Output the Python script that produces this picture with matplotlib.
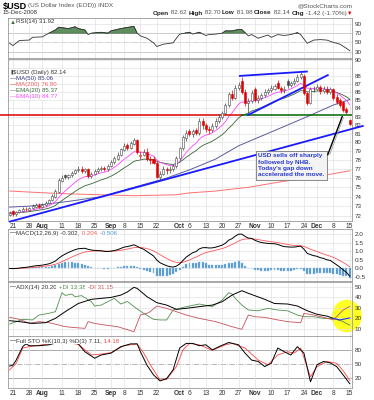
import matplotlib
matplotlib.use('Agg')
import matplotlib.pyplot as plt
import numpy as np
import pandas as pd
from matplotlib.patches import Ellipse
from matplotlib.ticker import NullLocator

plt.rcParams['font.family'] = ['Liberation Sans', 'DejaVu Sans']

# ---- data (day index -1 = 18 Jul 2008, 103 = 15 Dec 2008)
holidays = ['2008-09-01', '2008-11-27']

opens = [
    72.10,
    72.45, 72.15, 72.40, 72.50, 72.75, 72.60, 72.80, 72.90, 73.15, 72.95,
    73.10, 73.30, 73.60, 74.00, 74.50, 75.70, 76.30, 76.10, 76.30, 76.55,
    76.85, 77.05, 76.80, 76.95, 76.25, 76.45, 76.75, 76.95, 77.15, 76.95,
    77.30, 77.75, 78.15, 78.55, 79.15, 79.70, 79.40, 79.85, 80.25, 78.40,
    78.60, 78.95, 78.10, 78.10, 77.70, 76.10, 76.50, 77.00, 76.90, 77.00,
    77.30, 78.20, 79.30, 80.50, 81.30, 81.00, 81.40, 81.10, 82.50, 82.00,
    81.60, 81.40, 81.90, 82.50, 83.00, 83.40, 84.40, 85.80, 85.30, 86.50,
    87.40, 86.00, 84.60, 84.90, 86.30, 85.00, 85.30, 85.60, 86.00, 86.20,
    86.40, 87.10, 86.50, 86.20, 87.30, 86.90, 87.10, 87.40, 87.90, 88.00,
    85.90, 84.70, 86.30, 86.40, 86.60, 86.10, 86.40, 86.00, 86.30, 85.40,
    85.00, 84.80, 83.90, 82.62,
]
highs = [
    72.5,
    72.6, 72.5, 72.7, 72.9, 72.9, 72.9, 73.2, 73.3, 73.3, 73.3,
    73.5, 73.8, 74.3, 74.8, 76.0, 76.3, 76.5, 76.5, 76.8, 77.0,
    77.3, 77.3, 77.1, 77.1, 76.7, 77.0, 77.2, 77.3, 77.3, 77.5,
    78.0, 78.4, 78.9, 79.4, 79.9, 79.9, 80.1, 80.5, 80.4, 79.0,
    79.2, 79.3, 78.4, 78.4, 77.9, 76.8, 77.3, 77.2, 77.3, 77.5,
    78.4, 79.5, 80.8, 81.4, 81.6, 81.6, 81.7, 82.8, 82.9, 82.2,
    81.9, 82.2, 82.8, 83.3, 83.7, 84.7, 86.0, 86.2, 86.8, 87.2,
    87.8, 86.3, 85.3, 86.2, 86.6, 85.6, 85.9, 86.3, 86.5, 86.8,
    87.0, 87.5, 86.7, 86.7, 87.6, 87.4, 87.7, 88.2, 88.5, 88.2,
    86.0, 86.6, 86.7, 87.0, 86.8, 86.7, 86.7, 86.6, 86.5, 85.7,
    85.2, 84.9, 84.1, 82.70,
]
lows = [
    72.0,
    72.0, 72.0, 72.3, 72.4, 72.5, 72.5, 72.7, 72.8, 72.8, 72.8,
    73.0, 73.2, 73.5, 73.9, 74.4, 75.6, 75.9, 75.9, 76.1, 76.4,
    76.7, 76.6, 76.6, 76.0, 76.0, 76.3, 76.6, 76.8, 76.8, 76.8,
    77.2, 77.6, 78.0, 78.4, 79.0, 79.1, 79.2, 79.7, 78.7, 78.1,
    78.4, 77.9, 77.6, 77.5, 76.0, 75.8, 76.3, 76.5, 76.6, 76.8,
    77.1, 78.0, 79.1, 80.2, 80.7, 80.6, 80.8, 80.9, 81.6, 81.2,
    81.0, 81.2, 81.7, 82.3, 82.7, 83.2, 84.2, 85.0, 85.1, 86.2,
    85.7, 84.3, 83.3, 84.7, 84.8, 84.7, 85.0, 85.4, 85.8, 86.0,
    86.2, 86.3, 85.9, 85.9, 86.5, 86.6, 86.9, 87.2, 87.6, 85.6,
    84.4, 84.5, 86.0, 86.2, 85.8, 85.9, 85.8, 85.8, 85.0, 84.5,
    84.2, 83.6, 83.3, 81.98,
]
closes = [
    72.30,
    72.18, 72.40, 72.55, 72.70, 72.65, 72.80, 73.00, 73.10, 72.95, 73.15,
    73.35, 73.60, 74.10, 74.60, 75.80, 76.00, 76.10, 76.35, 76.60, 76.90,
    77.00, 76.80, 76.95, 76.25, 76.50, 76.80, 77.00, 77.10, 76.95, 77.30,
    77.80, 78.20, 78.60, 79.20, 79.60, 79.40, 79.90, 80.30, 78.90, 78.60,
    78.90, 78.10, 78.00, 77.70, 76.10, 76.50, 77.00, 76.90, 77.00, 77.30,
    78.20, 79.30, 80.60, 81.10, 81.00, 81.30, 81.10, 82.50, 82.00, 81.60,
    81.40, 81.90, 82.50, 83.00, 83.40, 84.40, 85.70, 85.30, 86.50, 86.80,
    86.00, 84.60, 84.90, 85.90, 85.00, 85.30, 85.60, 86.00, 86.20, 86.50,
    86.70, 86.50, 86.20, 86.40, 86.90, 87.10, 87.40, 87.90, 88.20, 85.90,
    84.70, 86.30, 86.40, 86.60, 86.10, 86.40, 86.00, 86.30, 85.20, 84.80,
    84.40, 83.80, 83.56, 82.14,
]

ma50_days = [-1, 5, 10, 17, 27, 36, 47, 54, 62, 69, 79, 90, 98, 103]
ma50_vals = [72.9, 73.0, 73.2, 73.5, 74.0, 74.9, 76.0, 76.9, 78.1, 79.6, 81.2, 83.0, 84.4, 85.06]
ma200_days = [-1, 10, 17, 27, 37, 50, 54, 62, 72, 82, 92, 103]
ma200_vals = [74.6, 74.4, 74.3, 74.2, 74.1, 74.2, 74.4, 74.6, 75.0, 75.6, 76.1, 76.8]

rsi_days = [-1, 0, 2, 5, 6, 9, 11, 13, 14, 17, 19, 20, 22, 23, 24, 27, 29, 30, 33, 37,
            38, 39, 41, 43, 44, 46, 49, 50, 51, 54, 55, 57, 59, 60, 62, 64, 65, 67, 69, 70,
            72, 73, 75, 78, 79, 81, 83, 85, 87, 88, 90, 92, 94, 96, 98, 100, 102, 103]
rsi_vals = [48, 43, 54, 55, 61, 62, 70, 77, 83, 80, 84, 80, 77, 67, 70, 72, 70, 75, 80, 85,
            70, 64, 59, 49, 41, 46, 49, 59, 68, 72, 68, 72, 65, 67, 68, 70, 75, 75, 78, 78,
            64, 67, 59, 66, 61, 67, 65, 67, 71, 67, 48, 55, 56, 55, 50, 46, 37, 31.92]

adx_days = [-1, 2, 6, 10, 13, 16, 20, 24, 27, 30, 33, 35, 37, 38, 41, 44, 47, 50, 53, 57,
            61, 64, 67, 70, 72, 77, 80, 84, 87, 90, 93, 96, 98, 100, 103]
adx_vals = [17.6, 16.7, 15.0, 15.7, 19.8, 26.2, 34.0, 38.0, 38.9, 39.8, 42.0, 45.0, 49.4, 48.4,
            40.5, 34.8, 32.5, 28.4, 29.4, 31.0, 32.5, 35.7, 42.0, 46.2, 43.7, 38.0, 34.0, 33.5,
            31.6, 27.1, 23.7, 22.0, 19.8, 18.3, 20.2]
pdi_days = [-1, 3, 6, 8, 11, 13, 15, 16, 18, 19, 21, 24, 25, 27, 29, 31, 33, 35, 37, 40,
            43, 45, 47, 49, 53, 57, 61, 64, 66, 67, 68, 70, 72, 75, 78, 81, 84, 87, 89, 92,
            95, 98, 101, 103]
pdi_vals = [14.4, 18.9, 18.3, 23.0, 24.6, 26.2, 44.3, 41.7, 43.0, 40.5, 41.5, 35.7, 31.6, 32.5,
            35.7, 38.9, 33.5, 36.0, 31.0, 24.6, 18.9, 18.3, 18.3, 27.8, 31.0, 33.5, 31.0, 37.3,
            44.3, 43.0, 38.9, 32.5, 27.8, 27.0, 29.4, 27.8, 27.0, 23.0, 21.4, 21.4, 19.8, 19.8,
            16.7, 13.38]
mdi_days = [-1, 2, 5, 8, 11, 14, 16, 19, 22, 23, 25, 28, 32, 37, 39, 41, 42, 44, 47, 50,
            53, 57, 62, 67, 70, 72, 74, 77, 81, 84, 88, 89, 92, 95, 98, 100, 101, 103]
mdi_vals = [20.8, 18.9, 15.0, 16.7, 15.7, 13.5, 11.9, 11.0, 10.3, 16.7, 15.0, 13.5, 11.9, 7.1,
            23.0, 24.6, 26.2, 31.6, 29.4, 26.2, 23.0, 19.8, 16.7, 11.9, 9.4, 23.0, 21.4, 20.8,
            18.3, 16.7, 15.7, 24.6, 23.0, 20.8, 18.3, 24.6, 27.8, 31.15]

stok_days = [-1, 0, 1, 3, 4, 5, 8, 11, 12, 15, 18, 20, 22, 25, 27, 30, 33, 36, 38, 39,
             41, 43, 45, 47, 49, 51, 53, 55, 57, 59, 61, 63, 66, 69, 71, 73, 75, 77, 79, 81,
             83, 85, 87, 89, 91, 93, 95, 97, 99, 101, 103]
stok_vals = [45, 47, 58, 87, 93, 89, 89, 91, 93, 97, 96, 93, 76, 62, 69, 73, 87, 93, 93, 76,
             47, 26, 13, 18, 37, 84, 94, 94, 89, 91, 80, 87, 96, 91, 73, 58, 55, 44, 51, 84,
             76, 69, 87, 73, 11, 48, 55, 52, 44, 26, 7.11]
stod_days = [-1, 1, 3, 5, 11, 17, 20, 24, 27, 30, 34, 38, 40, 42, 45, 47, 50, 52, 54, 57,
             61, 65, 67, 71, 75, 78, 81, 84, 86, 88, 91, 93, 96, 99, 101, 103]
stod_vals = [37, 51, 84, 87, 93, 95, 92, 69, 71, 74, 89, 93, 73, 48, 15, 16, 44, 80, 94, 91,
             79, 91, 94, 84, 58, 48, 69, 76, 73, 84, 22, 44, 55, 51, 35, 14.18]

tick_dates = ['2008-07-21', '2008-07-28', '2008-08-01', '2008-08-11', '2008-08-18',
              '2008-08-25', '2008-09-02', '2008-09-08', '2008-09-15', '2008-09-22',
              '2008-10-01', '2008-10-06', '2008-10-13', '2008-10-20', '2008-10-27',
              '2008-11-03', '2008-11-10', '2008-11-17', '2008-11-24', '2008-12-01',
              '2008-12-08', '2008-12-15']
tick_labels = ['21', '28', 'Aug', '11', '18', '25', 'Sep', '8', '15', '22', 'Oct', '6',
               '13', '20', '27', 'Nov', '10', '17', '24', 'Dec', '8', '15']
months = {'Aug', 'Sep', 'Oct', 'Nov', 'Dec'}

price_ticks = [72, 73, 74, 75, 76, 77, 78, 79, 80, 81, 82, 83, 84, 85, 86, 87, 88, 90]

# ---- derived series
days = pd.bdate_range('2008-07-18', '2008-12-15')
days = days[~days.isin(pd.to_datetime(holidays))]
x = np.arange(len(days)) - 1
tick_pos = days.get_indexer(pd.to_datetime(tick_dates)) - 1

o = np.array(opens)
h = np.array(highs)
lo = np.array(lows)
c = np.array(closes)
cs = pd.Series(c)
ema10 = cs.ewm(span=10, adjust=False).mean()
ema20 = cs.ewm(span=20, adjust=False).mean()
macd = cs.ewm(span=12, adjust=False).mean() - cs.ewm(span=26, adjust=False).mean()
signal = macd.ewm(span=9, adjust=False).mean()
hist = macd - signal

# ---- figure
fig = plt.figure(figsize=(3.74, 4.0), dpi=100)
bg = fig.add_axes([0, 0, 1, 1], zorder=-1)
bg.axis('off')

L, W = 8 / 374, 344 / 374


def panel(top, bottom):
    return fig.add_axes([L, 1 - bottom / 400, W, (bottom - top) / 400])


ax_rsi = panel(18, 58)
ax = panel(59, 221)
ax_macd = panel(229, 281)
ax_adx = panel(282, 336)
ax_sto = panel(336, 388)

GRID = '#e2e2e2'
for a in [ax_rsi, ax, ax_macd, ax_adx, ax_sto]:
    a.set_xlim(-1.5, 103.7)
    a.set_xticks(tick_pos)
    a.set_xticklabels([])
    a.yaxis.tick_right()
    a.tick_params(axis='both', length=0, labelsize=4.6, colors='#333333', pad=2)
    a.grid(True, axis='x', color=GRID, lw=0.5, zorder=0)
    for s in a.spines.values():
        s.set_color('#999999')
        s.set_linewidth(0.6)

for a in [ax, ax_sto]:
    a.set_xticklabels(tick_labels)
    a.tick_params(axis='x', pad=1.5, labelsize=4.8)
    for t in a.get_xticklabels():
        if t.get_text() in months:
            t.set_fontweight('bold')


def legend(a, y, parts, size=4.4):
    t = a.text(0.006, y, parts[0][0], color=parts[0][1], fontsize=size,
               transform=a.transAxes, va='center', ha='left', zorder=10,
               bbox=dict(fc='white', ec='none', pad=0.3))
    for s, col in parts[1:]:
        t = a.annotate(s, xy=(1, 0), xycoords=t, va='bottom', ha='left', color=col,
                       fontsize=size, zorder=10, bbox=dict(fc='white', ec='none', pad=0.3))


# ---- RSI panel
ax_rsi.set_ylim(16, 103)
ax_rsi.set_yticks([30, 50, 70, 90])
ax_rsi.axhline(10, color=GRID, lw=0.5)
ax_rsi.grid(True, axis='y', color=GRID, lw=0.5)
ax_rsi.axhline(70, color='#999999', lw=0.7, zorder=1)
ax_rsi.axhline(30, color='#999999', lw=0.7, zorder=1)
ax_rsi.axhline(50, color='#aaaaaa', lw=0.6, ls='-.', zorder=1)
rv = np.array(rsi_vals)
ax_rsi.fill_between(rsi_days, rv, 70, where=rv >= 70, interpolate=True,
                    fc='#5f8f5f', ec='#2f4f2f', lw=0.4, zorder=2)
ax_rsi.plot(rsi_days, rsi_vals, color='#333333', lw=0.6, zorder=3)
legend(ax_rsi, 0.9, [('▲', '#3f6f3f'), ('RSI(14) 31.92', '#333333')])

# ---- price panel
ax.set_yscale('log')
ax.set_ylim(71.46, 90.16)
ax.yaxis.set_major_locator(plt.FixedLocator(price_ticks))
ax.yaxis.set_minor_locator(NullLocator())
ax.set_yticklabels([str(p) for p in price_ticks])
ax.tick_params(axis='y', labelsize=4.4)
for p in range(72, 91):
    ax.axhline(p, color=GRID, lw=0.5, zorder=0)

ax.plot(ma200_days, ma200_vals, color='#ff7070', lw=0.7, zorder=2)
ax.plot(ma50_days, ma50_vals, color='#5a5aa0', lw=0.7, zorder=2)
ax.plot(x, ema20, color='#336633', lw=0.6, zorder=2)
ax.plot(x, ema10, color='#ff44ff', lw=0.6, zorder=2)

# support / trend lines
ax.plot([-4, 70], [83.15, 83.15], color='#dd0000', lw=1.1, zorder=3, clip_on=False)
ax.plot([70, 103.7], [83.15, 83.15], color='#006600', lw=1.1, zorder=3)
ax.plot([-0.9, 107], [71.4, 81.9], color='#1a1aff', lw=1.3, zorder=3, clip_on=False)
ax.plot([71.9, 96.3], [83.2, 88.1], color='#1a1aff', lw=1.3, zorder=3)
ax.plot([69.4, 89.9], [88.0, 88.55], color='#1a1aff', lw=1.3, zorder=3)

prev = np.r_[o[0], c[:-1]]
edge = np.where(c < prev, '#dd0000', '#444444')
face = np.where(c < o, edge, 'white')
ax.vlines(x, lo, h, colors=edge, lw=0.5, zorder=4)
ax.bar(x, np.maximum(np.abs(c - o), 0.05), bottom=np.minimum(o, c), width=0.62,
       color=face, edgecolor=edge, linewidth=0.4, zorder=5)

legend(ax, 0.918, [('▮', '#444444'), ('$USD (Daily) 82.14', '#333333')])
legend(ax, 0.877, [('—', '#33337a'), ('MA(50) 85.06', '#33337a')])
legend(ax, 0.840, [('—', '#dd0000'), ('MA(200) 76.80', '#ee5555')])
legend(ax, 0.805, [('—', '#336633'), ('EMA(20) 85.37', '#336633')])
legend(ax, 0.767, [('—', '#ff44ff'), ('EMA(10) 84.77', '#ff44ff')])

ax.text(75.0, 78.75, "USD sells off sharply\nfollowed by NHB.\nToday's gap down\naccelerated the move.",
        ha='left', va='top', fontsize=4.6, fontweight='bold', color='#2a3ad0', linespacing=1.35,
        zorder=7, bbox=dict(boxstyle='square,pad=0.35', fc='#f3f3f3', ec='#777777', lw=0.6))
ax.plot([96.3, 100.7], [78.6, 83.0], color='black', lw=1.0, zorder=7)
ax.plot([96.9, 101.1], [78.6, 82.9], color='#999999', lw=0.5, zorder=7)

# ---- MACD panel
ax_macd.set_ylim(-0.73, 2.29)
ax_macd.set_yticks([-0.5, 0.0, 0.5, 1.0, 1.5, 2.0])
ax_macd.set_yticklabels(['-0.5', '0.0', '0.5', '1.0', '1.5', '2.0'])
ax_macd.grid(True, axis='y', color=GRID, lw=0.5)
ax_macd.bar(x, hist, width=0.6, color='#4d94d0', edgecolor='#9cc3e6', linewidth=0.3, zorder=2)
ax_macd.plot(x, signal, color='#ff5555', lw=0.6, zorder=3)
ax_macd.plot(x, macd, color='black', lw=0.7, zorder=4)
legend(ax_macd, 0.92, [('—', 'black'), ('MACD(12,26,9) -0.302,', '#333333'),
                       (' 0.204,', '#ff5555'), (' -0.506', '#4d94d0')])

# ---- ADX panel
ax_adx.set_ylim(3, 54.5)
ax_adx.set_yticks([10, 20, 30, 40, 50])
ax_adx.grid(True, axis='y', color=GRID, lw=0.5)
ax_adx.add_patch(Ellipse((102.1, 22), width=9.2, height=31, fc='#ffff22', ec='none',
                         clip_on=False, zorder=1))
ax_adx.plot(pdi_days, pdi_vals, color='#4f8f4f', lw=0.6, zorder=2)
ax_adx.plot(mdi_days, mdi_vals, color='#c8505a', lw=0.6, zorder=2)
k = adx_days.index(98)
ax_adx.plot(adx_days[:k + 1], adx_vals[:k + 1], color='black', lw=0.7, zorder=3)
ax_adx.plot(adx_days[k:], adx_vals[k:], color='#2233dd', lw=0.8, zorder=3)
legend(ax_adx, 0.907, [('—', 'black'), ('ADX(14) 20.20', '#333333'),
                       (' +DI 13.38', '#4f8f4f'), (' -DI 31.15', '#c8505a')])

# ---- Full stochastics panel
ax_sto.set_ylim(-2.3, 110)
ax_sto.set_yticks([20, 50, 80])
ax_sto.axhline(80, color='#aaaaaa', lw=0.7, zorder=1)
ax_sto.axhline(20, color='#aaaaaa', lw=0.7, zorder=1)
ax_sto.axhline(50, color='#aaaaaa', lw=0.6, ls='-.', zorder=1)
ax_sto.plot(stod_days, stod_vals, color='#ff4444', lw=0.6, zorder=2)
ax_sto.plot(stok_days, stok_vals, color='black', lw=0.7, zorder=3)
legend(ax_sto, 0.9, [('—', 'black'), ('Full STO %K(10,3) %D(3) 7.11,', '#333333'),
                     (' 14.18', '#ff4444')])

# ---- header
bg.text(3 / 374, 1 - 6 / 400, '$USD', fontsize=6.6, fontweight='bold', va='center', ha='left')
bg.text(28 / 374, 1 - 6 / 400, '(US Dollar Index (EOD)) INDX', fontsize=4.6,
        color='#555555', va='center', ha='left')
bg.text(352 / 374, 1 - 6 / 400, '@StockCharts.com', fontsize=4.6, color='#555555',
        va='center', ha='right')
bg.text(3 / 374, 1 - 13 / 400, '15-Dec-2008', fontsize=4.4, color='#333333',
        va='center', ha='left')

hdr = [('Open', 'bold'), (' 82.62 ', 'normal'), ('High', 'bold'), (' 82.70 ', 'normal'),
       ('Low', 'bold'), (' 81.98 ', 'normal'), ('Close', 'bold'), (' 82.14 ', 'normal'),
       ('Chg', 'bold'), (' -1.42 (-1.70%)', 'normal')]
t = bg.text(352 / 374, 1 - 13 / 400, '▼', fontsize=4.0, color='#dd0000',
            va='center', ha='right')
for s, wgt in reversed(hdr):
    t = bg.annotate(s, xy=(0, 0), xycoords=t, ha='right', va='bottom', fontsize=4.6,
                    fontweight=wgt, color='#222222' if wgt == 'bold' else '#555555')

fig.savefig('out.png', dpi=100, facecolor='white')
